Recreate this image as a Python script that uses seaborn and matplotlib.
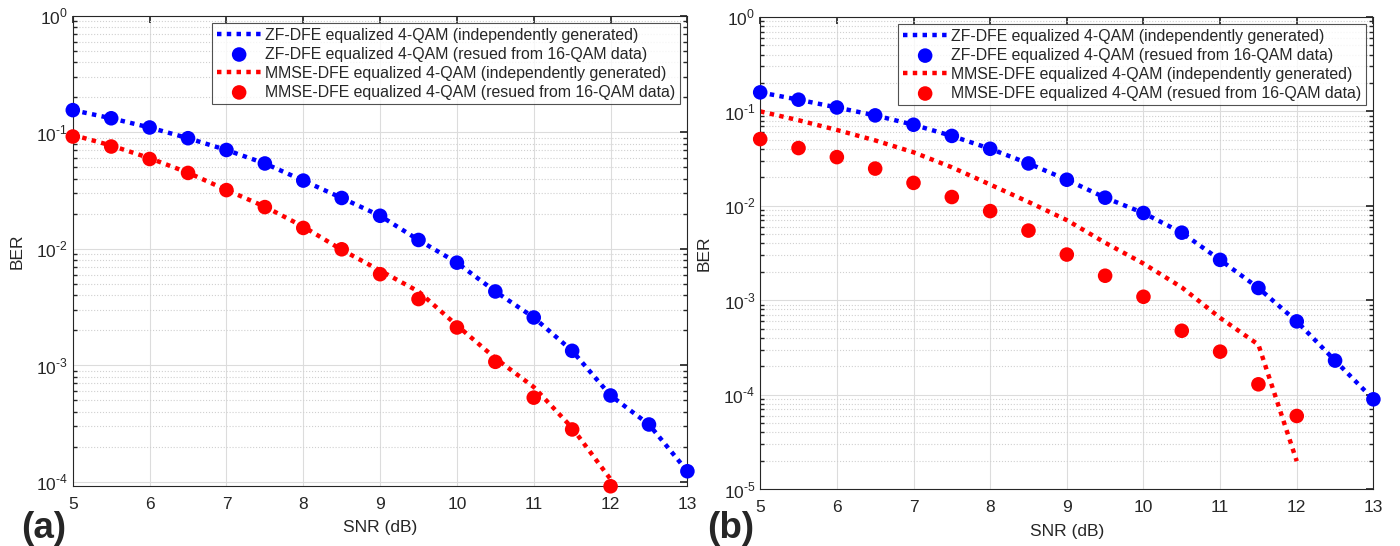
import numpy as np
import pandas as pd
import matplotlib
matplotlib.use("Agg")
import matplotlib.pyplot as plt
import seaborn as sns
from matplotlib.ticker import LogLocator, NullFormatter, FuncFormatter

snr = [5, 5.5, 6, 6.5, 7, 7.5, 8, 8.5, 9, 9.5, 10, 10.5, 11, 11.5, 12, 12.5, 13]
snr_mmse = snr[:15]

# panel (a)
zf_line_a = [0.155, 0.132, 0.110, 0.089, 0.0705, 0.054, 0.0385, 0.0273, 0.0192, 0.0119,
             0.0076, 0.0043, 0.00257, 0.00133, 0.00055, 0.00031, 0.000123]
zf_dots_a = [0.155, 0.132, 0.110, 0.089, 0.0705, 0.054, 0.0385, 0.0273, 0.0192, 0.0119,
             0.0076, 0.0043, 0.00257, 0.00133, 0.00055, 0.00031, 0.000123]
mmse_line_a = [0.095, 0.077, 0.060, 0.045, 0.032, 0.023, 0.0155, 0.0098, 0.0065, 0.0043,
               0.0022, 0.00115, 0.00065, 0.00029, 0.000105]
mmse_dots_a = [0.092, 0.0755, 0.059, 0.0448, 0.0319, 0.0228, 0.0151, 0.0099, 0.00605, 0.0037,
               0.00211, 0.00107, 0.000527, 0.000281, 0.0000914]

# panel (b)
zf_line_b = [0.159, 0.133, 0.110, 0.0907, 0.0722, 0.055, 0.0402, 0.0281, 0.0189, 0.0122,
             0.0084, 0.0052, 0.00268, 0.00135, 0.000598, 0.00023, 0.0000895]
zf_dots_b = [0.159, 0.133, 0.110, 0.0907, 0.0722, 0.055, 0.0402, 0.0281, 0.0189, 0.0122,
             0.0084, 0.0052, 0.00268, 0.00135, 0.000598, 0.00023, 0.0000895]
mmse_line_b = [0.100, 0.0806, 0.0636, 0.0493, 0.0369, 0.0256, 0.0168, 0.011, 0.00706, 0.00407,
               0.00245, 0.00137, 0.000652, 0.000339, 0.0000198]
mmse_dots_b = [0.0509, 0.0409, 0.0328, 0.0248, 0.0175, 0.0124, 0.0088, 0.00547, 0.00305, 0.00182,
               0.00109, 0.000476, 0.000286, 0.000129, 0.0000596]

labels = ["ZF-DFE equalized 4-QAM (independently generated)",
          "ZF-DFE equalized 4-QAM (resued from 16-QAM data)",
          "MMSE-DFE equalized 4-QAM (independently generated)",
          "MMSE-DFE equalized 4-QAM (resued from 16-QAM data)"]

sns.set_theme(style="white")
plt.rcParams['font.family'] = ['Liberation Sans', 'DejaVu Sans']
plt.rcParams['mathtext.fontset'] = 'custom'
plt.rcParams['mathtext.rm'] = 'Liberation Sans'


def pow10(v, pos):
    e = int(round(np.log10(v)))
    return r"$10^{\text{%d}}$" % e


def draw_panel(ax, zf_line, zf_dots, mmse_line, mmse_dots, ymin):
    sns.lineplot(x=snr, y=zf_line, ax=ax, color="#0000ff", linestyle=(0, (1, 1.2)),
                 linewidth=3.2, label=labels[0])
    sns.scatterplot(x=snr, y=zf_dots, ax=ax, color="#0000ff", s=110, edgecolor="none",
                    label=labels[1], clip_on=False, zorder=3)
    sns.lineplot(x=snr_mmse, y=mmse_line, ax=ax, color="#ff0000", linestyle=(0, (1, 1.2)),
                 linewidth=3.2, label=labels[2])
    sns.scatterplot(x=snr_mmse, y=mmse_dots, ax=ax, color="#ff0000", s=110, edgecolor="none",
                    label=labels[3], clip_on=False, zorder=3)
    ax.set_yscale("log")
    ax.set_xlim(5, 13)
    ax.set_ylim(ymin, 1)
    ax.set_xticks(range(5, 14))
    ax.yaxis.set_major_locator(LogLocator(base=10, numticks=10))
    ax.yaxis.set_major_formatter(FuncFormatter(pow10))
    ax.yaxis.set_minor_locator(LogLocator(base=10, subs=np.arange(2, 10), numticks=20))
    ax.yaxis.set_minor_formatter(NullFormatter())
    ax.grid(True, which="major", color="#dcdcdc", linewidth=0.8)
    ax.grid(True, which="minor", axis="y", color="#d0d0d0", linestyle=":", linewidth=0.8)
    ax.set_axisbelow(True)
    ax.tick_params(axis="both", which="major", direction="in", length=5, labelsize=12.5,
                   top=True, right=True, colors="#262626")
    ax.tick_params(axis="x", which="major", pad=8)
    ax.tick_params(axis="y", which="minor", direction="in", length=3, right=True, left=True)
    for s in ax.spines.values():
        s.set_color("#262626")
        s.set_linewidth(0.8)
    ax.set_xlabel("SNR (dB)", fontsize=12.5, color="#262626")
    ax.set_ylabel("BER", fontsize=12.5, color="#262626")
    ax.xaxis.set_label_coords(0.5, -0.089, transform=ax.transAxes)
    ax.yaxis.set_label_coords(-0.091, 0.5, transform=ax.transAxes)
    ax.xaxis.label.set_va("center")
    ax.yaxis.label.set_va("center")
    leg = ax.legend(loc="upper right", fontsize=11.4, frameon=True, fancybox=False,
                    edgecolor="#262626", handlelength=2.8, handletextpad=0.25,
                    borderpad=0.3, labelspacing=0.25, borderaxespad=0.45)
    leg.get_frame().set_linewidth(0.8)


fig = plt.figure(figsize=(14, 5.46), dpi=100)
ax1 = fig.add_axes([0.052, 0.110, 0.439, 0.861])
ax2 = fig.add_axes([0.543, 0.104, 0.438, 0.865])

draw_panel(ax1, zf_line_a, zf_dots_a, mmse_line_a, mmse_dots_a, 9.2e-5)
draw_panel(ax2, zf_line_b, zf_dots_b, mmse_line_b, mmse_dots_b, 1e-5)

fig.text(0.015, 0.0, "(a)", fontsize=26.5, fontweight="bold", ha="left", va="bottom")
fig.text(0.505, 0.0, "(b)", fontsize=26.5, fontweight="bold", ha="left", va="bottom")

fig.savefig("out.png", dpi=100)
